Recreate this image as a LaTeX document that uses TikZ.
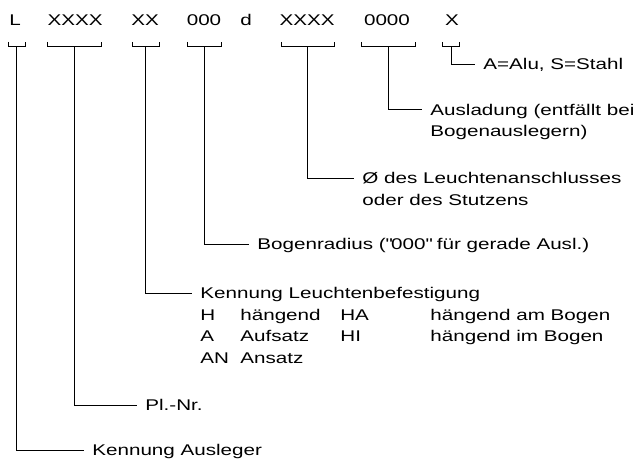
\documentclass[tikz,border=0pt]{standalone}
\usepackage{fontspec}
\setmainfont{Liberation Sans}[FakeStretch=1.33]

\begin{document}
\begin{tikzpicture}[x=1pt, y=-1pt, line width=0.8pt,
    every node/.style={font=\fontsize{15.5}{21.5}\selectfont, inner sep=0pt},
    code/.style={anchor=base},
    label/.style={anchor=base west, inner xsep=8pt}]
    \useasboundingbox (0,0) rectangle (642,460);

    % code row
    \node[code] (cL) at (15,25.5) {L};
    \node[code] (cPl) at (75,25.5) {XXXX};
    \node[code] (cBef) at (145,25.5) {XX};
    \node[code] (cRad) at (204,25.5) {000};
    \node[code] (cD) at (246,25.5) {d};
    \node[code] (cAns) at (307,25.5) {XXXX};
    \node[code] (cAusl) at (387,25.5) {0000};
    \node[code] (cMat) at (452,25.5) {X};

    % brackets under the code
    \draw (8,42) -- (8,46.5) -- (25,46.5) -- (25,42);
    \draw (47,42) -- (47,46.5) -- (101,46.5) -- (101,42);
    \draw (132,42) -- (132,46.5) -- (159,46.5) -- (159,42);
    \draw (187,42) -- (187,46.5) -- (221,46.5) -- (221,42);
    \draw (281,42) -- (281,46.5) -- (334,46.5) -- (334,42);
    \draw (361,42) -- (361,46.5) -- (415,46.5) -- (415,42);
    \draw (442,42) -- (442,46.5) -- (459,46.5) -- (459,42);
    \coordinate (bL) at (16.5,46.5);
    \coordinate (bPl) at (74,46.5);
    \coordinate (bBef) at (145.5,46.5);
    \coordinate (bRad) at (204,46.5);
    \coordinate (bAns) at (307.5,46.5);
    \coordinate (bAusl) at (388,46.5);
    \coordinate (bMat) at (451,46.5);

    % explanations
    \node[label] (tMat) at (475,69.5) {A=Alu, S=Stahl};
    \node[label] (tAusl) at (422,115) {\begin{tabular}[t]{@{}l@{}}Ausladung (entfällt bei\\Bogenauslegern)\end{tabular}};
    \node[label] (tAns) at (354,183.5) {\begin{tabular}[t]{@{}l@{}}Ø des Leuchtenanschlusses\\oder des Stutzens\end{tabular}};
    \node[label] (tRad) at (249,249.5) {Bogenradius (\textquotedbl 000\textquotedbl\ für gerade Ausl.)};
    \node[label] (tBef) at (192,298.5) {\begin{tabular}[t]{@{}p{40pt}@{}p{100pt}@{}p{90pt}@{}l@{}}
        \multicolumn{4}{@{}l@{}}{Kennung Leuchtenbefestigung}\\
        H & hängend & HA & hängend am Bogen\\
        A & Aufsatz & HI & hängend im Bogen\\
        AN & Ansatz & & \end{tabular}};
    \node[label] (tPl) at (137,410.5) {Pl.-Nr.};
    \node[label] (tL) at (84,455.5) {Kennung Ausleger};

    \draw (bMat) |- ([yshift=5.5pt]tMat.base west);
    \draw (bAusl) |- ([yshift=5.5pt]tAusl.base west);
    \draw (bAns) |- ([yshift=5.5pt]tAns.base west);
    \draw (bRad) |- ([yshift=5.5pt]tRad.base west);
    \draw (bBef) |- ([yshift=5.5pt]tBef.base west);
    \draw (bPl) |- ([yshift=5.5pt]tPl.base west);
    \draw (bL) |- ([yshift=5.5pt]tL.base west);
\end{tikzpicture}
\end{document}
